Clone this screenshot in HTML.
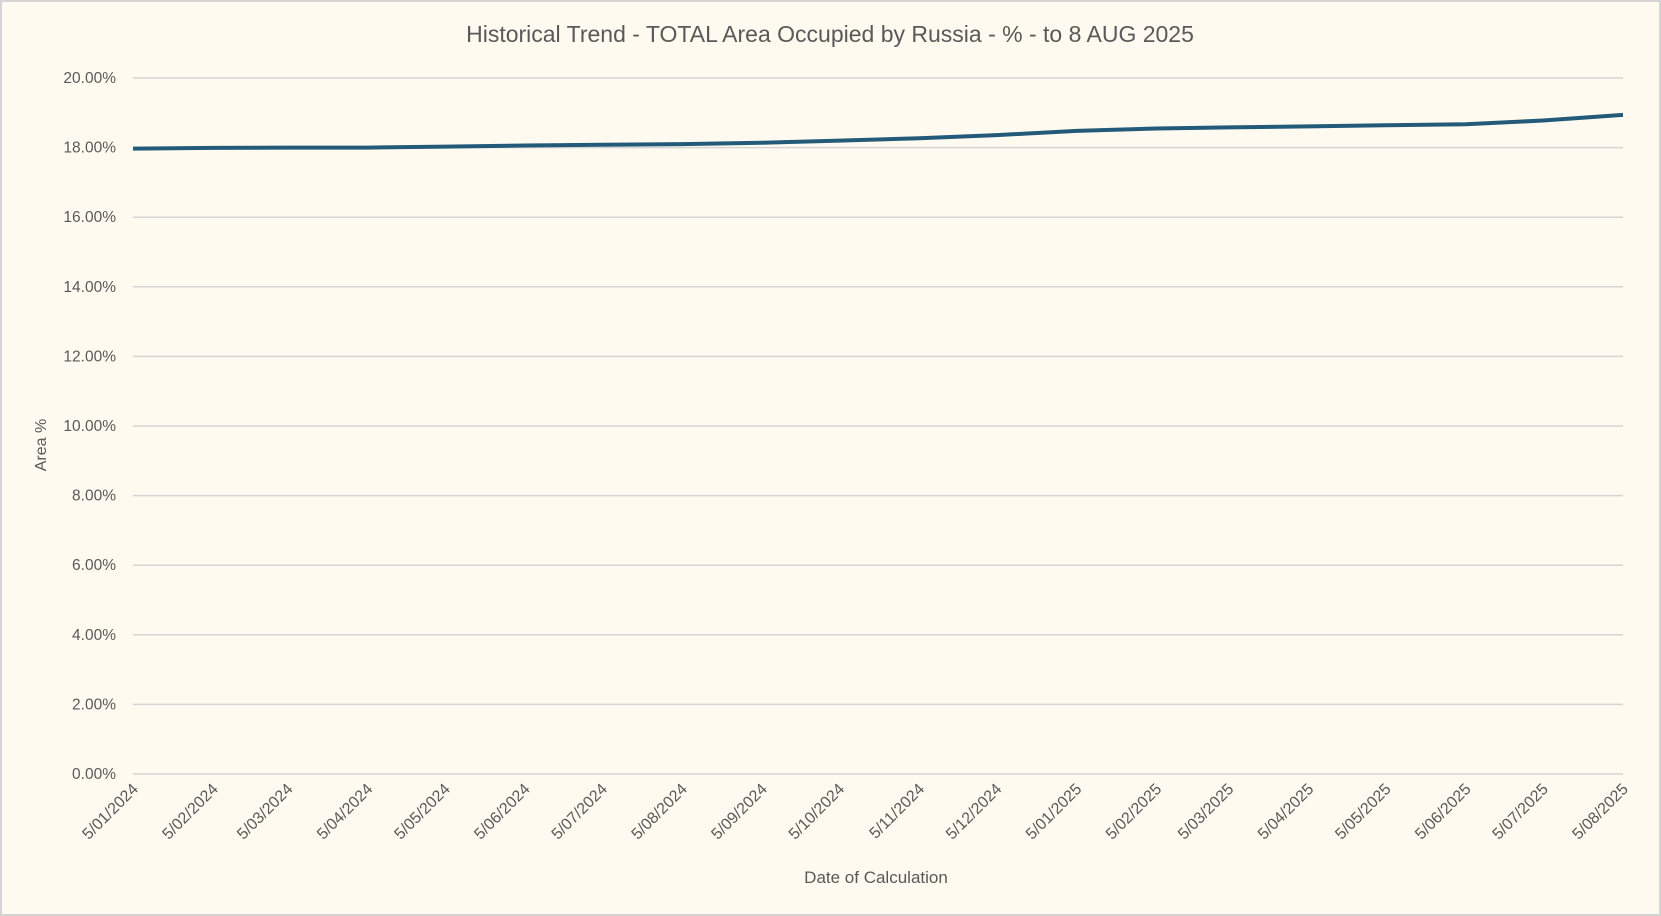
<!DOCTYPE html>
<html><head><meta charset="utf-8"><style>
body{margin:0;background:#fff}
svg{display:block;font-family:"Liberation Sans",sans-serif}
</style></head><body>
<svg width="1661" height="916" viewBox="0 0 1661 916">
<rect x="1" y="1" width="1659" height="914" fill="#fefaef" stroke="#d4d4d4" stroke-width="2"/>
<text x="830" y="42" text-anchor="middle" font-size="23" fill="#595959">Historical Trend - TOTAL Area Occupied by Russia - % - to 8 AUG 2025</text>
<g id="grid"></g>
<g id="yt"></g>
<g id="xt"></g>
<path id="line" fill="none" stroke="#235a7a" stroke-width="4" stroke-linejoin="round"/>
<text x="876" y="883" text-anchor="middle" font-size="17" fill="#595959">Date of Calculation</text>
<text transform="translate(46,445) rotate(-90)" text-anchor="middle" font-size="16" fill="#595959">Area %</text>
</svg>
<script>
const dates=["2024-01-05","2024-02-05","2024-03-05","2024-04-05","2024-05-05","2024-06-05","2024-07-05","2024-08-05","2024-09-05","2024-10-05","2024-11-05","2024-12-05","2025-01-05","2025-02-05","2025-03-05","2025-04-05","2025-05-05","2025-06-05","2025-07-05","2025-08-05"];
const values=[17.97,17.99,18.0,18.0,18.03,18.06,18.08,18.1,18.14,18.2,18.27,18.36,18.48,18.55,18.58,18.61,18.64,18.67,18.78,18.94];
const tickLabels=["5/01/2024","5/02/2024","5/03/2024","5/04/2024","5/05/2024","5/06/2024","5/07/2024","5/08/2024","5/09/2024","5/10/2024","5/11/2024","5/12/2024","5/01/2025","5/02/2025","5/03/2025","5/04/2025","5/05/2025","5/06/2025","5/07/2025","5/08/2025"];
const yTicks=[0,2,4,6,8,10,12,14,16,18,20];
const NS="http://www.w3.org/2000/svg";
const x0=133,x1=1623,yTop=78,yBot=774;
const t0=Date.parse("2024-01-05"),t1=Date.parse("2025-08-05");
const xs=d=>x0+(Date.parse(d)-t0)/(t1-t0)*(x1-x0);
const ys=v=>yBot-v/20*(yBot-yTop);
const grid=document.getElementById('grid'),yt=document.getElementById('yt'),xt=document.getElementById('xt');
yTicks.forEach(v=>{
 const l=document.createElementNS(NS,'line');
 
 
 l.setAttribute('x1',x0);l.setAttribute('x2',x1);l.setAttribute('y1',ys(v));l.setAttribute('y2',ys(v));
 l.setAttribute('stroke','#d4d4d4');l.setAttribute('stroke-width','1.5');grid.appendChild(l);
 const t=document.createElementNS(NS,'text');
 
 
 t.setAttribute('x',116);t.setAttribute('y',ys(v)+5);t.setAttribute('text-anchor','end');
 t.setAttribute('font-size','15.5');t.setAttribute('fill','#595959');t.textContent=v.toFixed(2)+'%';yt.appendChild(t);
});
tickLabels.forEach((s,i)=>{
 const x=xs(dates[i]);
 const t=document.createElementNS(NS,'text');
 
 
 t.setAttribute('transform','translate('+(x+6)+',790) rotate(-45)');
 t.setAttribute('text-anchor','end');t.setAttribute('font-size','16');t.setAttribute('fill','#595959');
 t.textContent=s;xt.appendChild(t);
});
const pts=dates.map((d,i)=>[xs(d),ys(values[i])]);
document.getElementById('line').setAttribute('d','M'+pts.map(p=>p[0].toFixed(1)+','+p[1].toFixed(1)).join('L'));
</script>
</body></html>
